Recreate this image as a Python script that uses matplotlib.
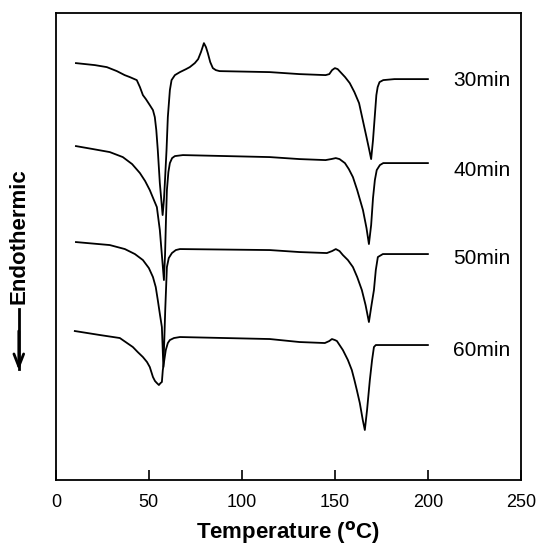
import numpy as np
import matplotlib.pyplot as plt

plt.rcParams['font.family'] = ['Liberation Sans', 'DejaVu Sans']

# DSC traces, temperature (C) and signal (arbitrary units, offset per trace)
t30 = [10.8, 21, 27.4, 32.8, 37, 39.8, 43.5, 45.2, 46.8, 48.4, 50.5, 52.2, 53.2, 54, 54.8, 55.9,
       56.7, 57.4, 58.1, 58.6, 59.5, 60.2, 61.3, 62.2, 64, 66.7, 70, 72, 74.7, 76.5, 78, 79.6,
       80.7, 81.7, 83, 84.4, 86, 88, 115, 131, 145, 147, 148.5, 150, 151.5, 153, 155.5, 158,
       160.5, 163, 165, 167, 168.5, 169.5, 170.5, 171.5, 172.3, 173, 174, 176, 182, 200]
s30 = [417, 415, 413, 409, 405, 403, 400, 393, 385, 381, 375, 370, 363, 350, 330, 297,
       280, 265, 280, 297, 330, 363, 390, 400, 405, 408, 411, 413, 417, 421, 428, 437,
       433, 427, 418, 412, 410, 409, 408, 406, 405, 406, 410, 412, 411, 408, 403, 397,
       388, 377, 360, 343, 330, 321, 340, 365, 385, 393, 398, 400, 401, 401]

t40 = [10.8, 20, 29, 36, 41, 45.2, 48, 50.5, 52.5, 54.3, 55.9, 57, 58.1, 58.7, 59.2, 59.7,
       60.5, 61.3, 62.5, 64, 68.3, 115, 131, 145, 148, 150.5, 152.5, 155.4, 157.5, 159.7,
       162, 165.1, 167, 168.3, 169.5, 170.5, 171.5, 172.5, 174.2, 176, 200]
s40 = [334, 331, 328, 323, 316, 307, 299, 290, 281, 273, 250, 225, 200, 225, 260, 290,
       308, 317, 322, 324, 325, 323, 321, 320, 321, 322, 321, 317, 311, 303,
       290, 270, 252, 236, 255, 282, 300, 310, 315, 317, 317]

t50 = [10.8, 29, 37.1, 42.5, 46.8, 50, 52.2, 53.7, 54.8, 56, 57, 57.8, 58.3, 58.8, 59.7,
       60.7, 62.4, 64.5, 66.7, 115, 131, 145.7, 148.5, 150.5, 152.5, 154.3, 157, 159.7,
       162, 164.5, 166.5, 168.3, 169.7, 171, 172, 173.1, 175.8, 200]
s50 = [238, 235, 231, 226, 220, 212, 203, 193, 180, 165, 153, 113, 140, 170, 213,
       222, 227, 230, 231, 230, 228, 227, 229, 231, 229, 225, 220, 213,
       203, 190, 175, 158, 175, 190, 210, 223, 226, 226]

t60 = [10.2, 23.7, 34.4, 41.4, 44, 46.8, 49, 50.5, 52.2, 53.3, 54.3, 55.4, 56.3, 57, 57.5,
       58.3, 59.1, 60.2, 61.3, 63.5, 66.7, 115, 131, 144.6, 147, 148.4, 150, 151.1, 154.3,
       157, 159.1, 160.5, 161.8, 163.4, 165, 166.1, 167.3, 168.8, 170, 171, 172, 173.1, 200]
s60 = [149, 145, 142, 133, 128, 123, 118, 113, 103, 99, 97, 95, 97, 98, 110,
       120, 130, 137, 140, 142, 143, 141, 138, 137, 139, 141, 140, 139, 130,
       120, 110, 100, 90, 77, 60, 50, 70, 100, 120, 133, 135, 135, 135]

traces = [(t30, s30), (t40, s40), (t50, s50), (t60, s60)]
labels = ['30min', '40min', '50min', '60min']
label_y = [400, 310, 222, 130]

fig = plt.figure(figsize=(5.37, 5.47), dpi=100)
ax = fig.add_axes([0.104, 0.1225, 0.866, 0.8535])

for (t, s), lab, ly in zip(traces, labels, label_y):
    ax.plot(t, s, color='black', lw=1.3)
    ax.text(229, ly, lab, fontsize=15, ha='center', va='center')

ax.set_xlim(0, 250)
ax.set_ylim(0, 467)
ax.set_xticks([0, 50, 100, 150, 200, 250])
ax.set_yticks([])
ax.tick_params(axis='x', direction='in', length=7, width=1.2, labelsize=13, pad=10)
for sp in ax.spines.values():
    sp.set_linewidth(1.3)

ax.set_xlabel(r'Temperature ($\mathbf{^o}$C)', fontsize=16, fontweight='bold', labelpad=6)

fig.text(0.035, 0.568, 'Endothermic', rotation=90, fontsize=16, fontweight='bold',
         ha='center', va='center')
fig.add_artist(plt.Line2D([0.035, 0.035], [0.435, 0.325], color='black', lw=2))
ax.annotate('', xy=(0.035, 0.318), xytext=(0.035, 0.40), xycoords='figure fraction',
            arrowprops=dict(arrowstyle='->,head_length=0.9,head_width=0.35', lw=2, color='black'))

fig.savefig('out.png', dpi=100)
